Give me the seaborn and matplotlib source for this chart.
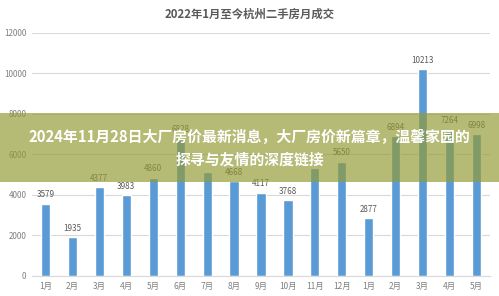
import matplotlib
matplotlib.use("Agg")
import matplotlib.pyplot as plt
import seaborn as sns
import pandas as pd
from matplotlib.patches import Rectangle

# Data
months = ["1月", "2月", "3月", "4月", "5月", "6月", "7月", "8月", "9月", "10月", "11月", "12月",
          "1月", "2月", "3月", "4月", "5月"]
keys = ["2022-01", "2022-02", "2022-03", "2022-04", "2022-05", "2022-06", "2022-07", "2022-08",
        "2022-09", "2022-10", "2022-11", "2022-12", "2023-01", "2023-02", "2023-03", "2023-04", "2023-05"]
values = [3579, 1935, 4377, 3983, 4860, 6828, 5136, 4668, 4117, 3768, 5330, 5650,
          2877, 6894, 10213, 7264, 6998]
# data labels as visible in the reference (two are hidden behind the banner text)
value_labels = ["3579", "1935", "4377", "3983", "4860", "6828", "", "4668", "4117", "3768", "", "5650",
                "2877", "6894", "10213", "7264", "6998"]
yticks = [0, 2000, 4000, 6000, 8000, 10000, 12000]
title = "2022年1月至今杭州二手房月成交"
banner_line1 = "2024年11月28日大厂房价最新消息，大厂房价新篇章，温馨家园的"
banner_line2 = "探寻与友情的深度链接"

sns.set_theme(style="white")
plt.rcParams['font.family'] = ['Noto Sans CJK SC', 'DejaVu Sans']

df = pd.DataFrame({"key": keys, "value": values})

fig = plt.figure(figsize=(4.99, 2.96), dpi=100)
ax = fig.add_axes([0.064, 0.0676, 0.918, 0.821])

sns.barplot(data=df, x="key", y="value", color="#5b9bd5", width=0.34, saturation=1, ax=ax, zorder=2)

ax.set_ylim(0, 12000)
ax.set_yticks(yticks)
ax.set_yticklabels([str(v) for v in yticks], fontsize=5.8, color="#7f7f7f")
ax.set_xticks(range(len(months)))
ax.set_xticklabels(months, fontsize=6, color="#7f7f7f")
ax.set_xlabel("")
ax.set_ylabel("")
ax.tick_params(axis="both", length=0, pad=4)
ax.yaxis.grid(True, color="#d9d9d9", linewidth=0.8, zorder=0)
for s in ["top", "right", "left"]:
    ax.spines[s].set_visible(False)
ax.spines["bottom"].set_color("#d9d9d9")
ax.spines["bottom"].set_linewidth(0.8)

ax.bar_label(ax.containers[0], labels=value_labels, padding=3,
             fontsize=5.8, color="#595959")

fig.text(0.5, 0.953, title, ha="center", va="center", fontsize=8.2,
         fontweight="bold", color="#595959")

# Overlay banner
fig.patches.append(Rectangle((0, 0.385), 1, 0.233, transform=fig.transFigure,
                             facecolor=(146/255, 154/255, 52/255), alpha=0.68,
                             edgecolor="none", zorder=5))
fig.text(0.5, 0.5405, banner_line1, ha="center", va="center", fontsize=10.7,
         fontweight="bold", color="white", zorder=6)
fig.text(0.5, 0.46, banner_line2, ha="center", va="center", fontsize=10.7,
         fontweight="bold", color="white", zorder=6)

fig.savefig("out.png", dpi=100)
